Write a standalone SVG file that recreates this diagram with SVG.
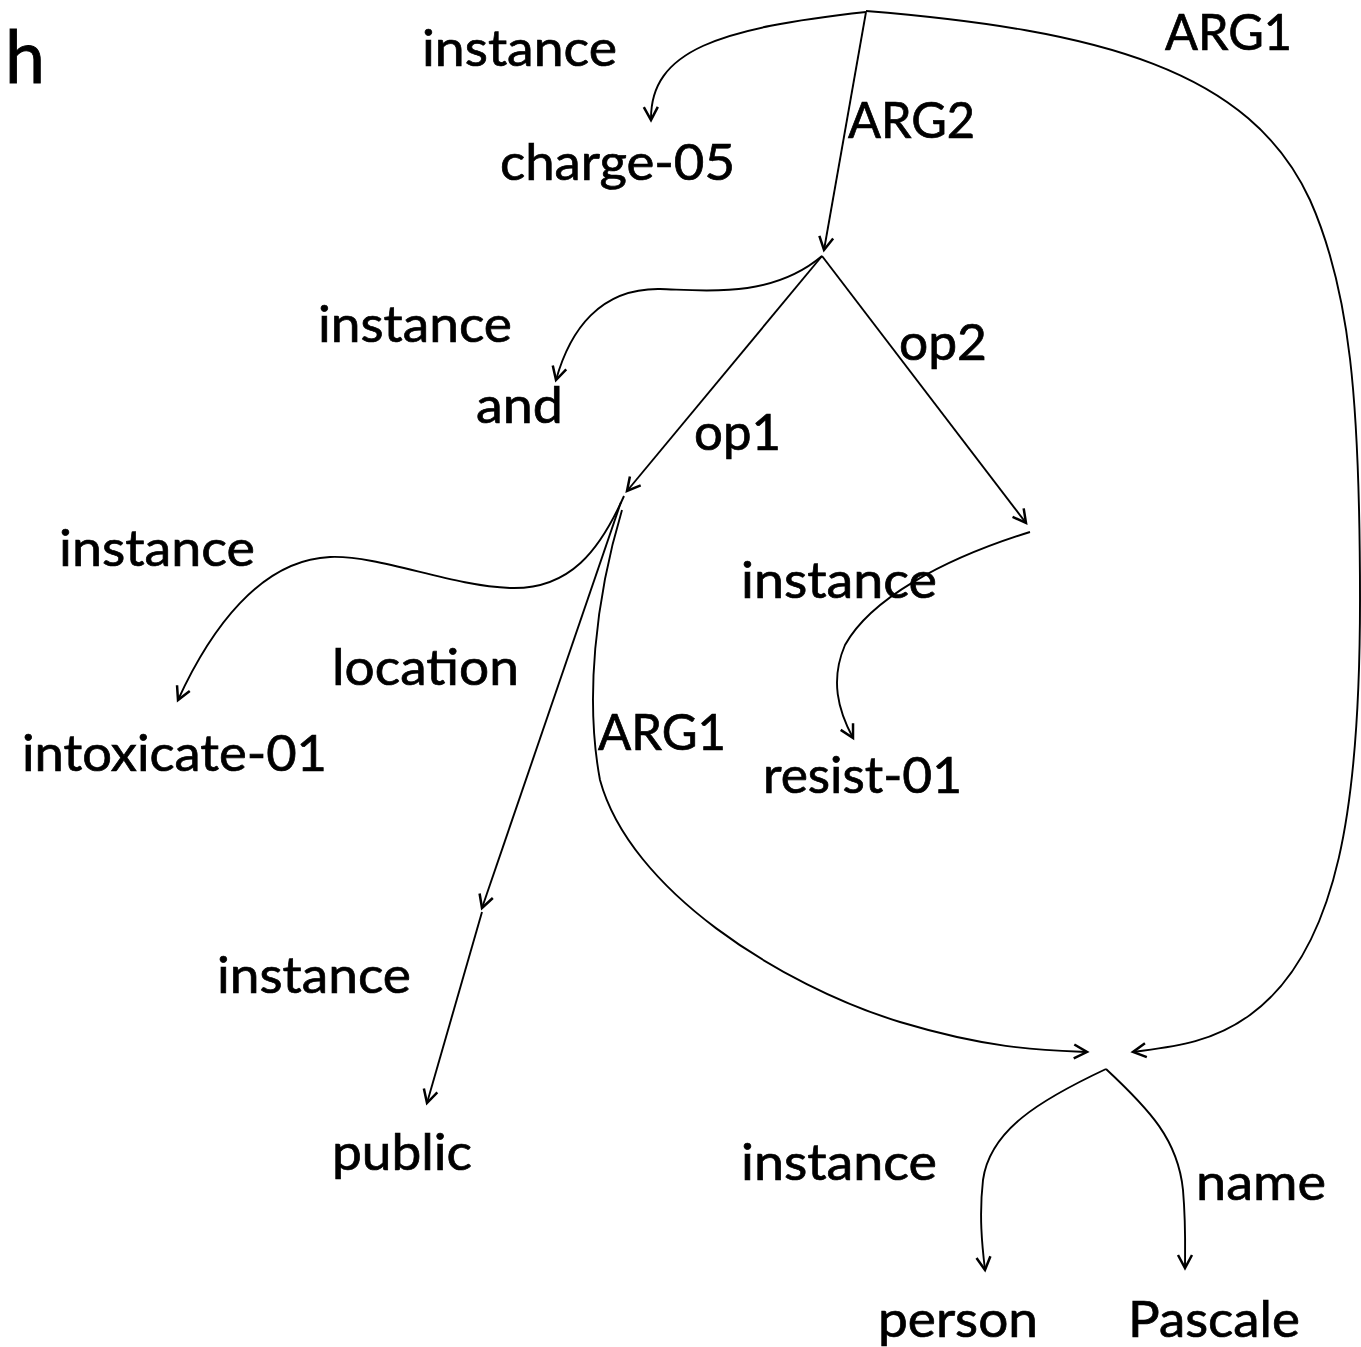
<svg xmlns="http://www.w3.org/2000/svg" width="1361" height="1347" viewBox="0 0 1361 1347">
<style>
  text { font-family: Lato, "Liberation Sans", sans-serif; font-size: 50px; fill: #000; stroke: #000; stroke-width: 0.7; }
  .big { font-size: 74px; stroke-width: 0.9; }
  .edge { fill: none; stroke: #000; stroke-width: 1.9; marker-end: url(#arr); }
</style>
<defs>
  <marker id="arr" viewBox="-16 -10 19 20" refX="0" refY="0" markerWidth="19" markerHeight="20" orient="auto" markerUnits="userSpaceOnUse">
    <path d="M-13,-7 L0,0 L-13,7" fill="none" stroke="#000" stroke-width="2.5" stroke-linejoin="miter"/>
  </marker>
</defs>
<rect width="1361" height="1347" fill="#fff"/>

<g id="panel-label"><text class="big" x="5" y="83" textLength="40" lengthAdjust="spacingAndGlyphs">h</text></g>

<g id="connectors">
  <path class="edge" d="M866,12 C720,28 650,50 651,120"/>
  <path class="edge" d="M866,12 L824,250"/>
  <path class="edge" d="M866,11 C1100,30 1250,70 1310,200 C1350,290 1360,400 1360,600 C1360,800 1340,950 1250,1015 C1210,1044 1170,1047 1133,1052"/>
  <path class="edge" d="M822,256 C770,300 700,290 660,289 C600,288 570,330 556,380"/>
  <path class="edge" d="M822,256 L627,491"/>
  <path class="edge" d="M822,256 L1026,523"/>
  <path class="edge" d="M624,496 C600,550 570,590 510,588 C450,586 380,555 330,557 C260,560 210,630 178,700"/>
  <path class="edge" d="M621,502 L482,908"/>
  <path class="edge" d="M622,510 C595,600 585,700 600,780 C630,890 780,985 900,1022 C990,1049 1040,1050 1087,1052"/>
  <path class="edge" d="M482,912 L427,1103"/>
  <path class="edge" d="M1030,532 C940,560 870,600 845,645 C830,680 838,710 853,738"/>
  <path class="edge" d="M1106,1069 C1040,1100 990,1130 983,1180 C979,1215 982,1245 985,1270"/>
  <path class="edge" d="M1106,1069 C1150,1110 1178,1140 1183,1190 C1186,1225 1185,1250 1185,1268"/>
</g>

<g id="edge-labels">
  <text x="422" y="66" textLength="195" lengthAdjust="spacingAndGlyphs">instance</text>
  <text x="1165" y="50" textLength="127" lengthAdjust="spacingAndGlyphs">ARG1</text>
  <text x="848" y="138" textLength="127" lengthAdjust="spacingAndGlyphs">ARG2</text>
  <text x="318" y="342" textLength="194" lengthAdjust="spacingAndGlyphs">instance</text>
  <text x="899" y="360" textLength="88" lengthAdjust="spacingAndGlyphs">op2</text>
  <text x="694" y="450" textLength="87" lengthAdjust="spacingAndGlyphs">op1</text>
  <text x="59" y="566" textLength="196" lengthAdjust="spacingAndGlyphs">instance</text>
  <text x="741" y="598" textLength="196" lengthAdjust="spacingAndGlyphs">instance</text>
  <text x="332" y="685" textLength="187" lengthAdjust="spacingAndGlyphs">location</text>
  <text x="598" y="750" textLength="128" lengthAdjust="spacingAndGlyphs">ARG1</text>
  <text x="217" y="993" textLength="194" lengthAdjust="spacingAndGlyphs">instance</text>
  <text x="741" y="1180" textLength="196" lengthAdjust="spacingAndGlyphs">instance</text>
  <text x="1196" y="1200" textLength="130" lengthAdjust="spacingAndGlyphs">name</text>
</g>

<g id="node-charge-05"><text x="500" y="180" textLength="235" lengthAdjust="spacingAndGlyphs">charge-05</text></g>
<g id="node-and"><text x="476" y="423" textLength="87" lengthAdjust="spacingAndGlyphs">and</text></g>
<g id="node-intoxicate-01"><text x="22" y="771" textLength="305" lengthAdjust="spacingAndGlyphs">intoxicate-01</text></g>
<g id="node-resist-01"><text x="763" y="793" textLength="199" lengthAdjust="spacingAndGlyphs">resist-01</text></g>
<g id="node-public"><text x="332" y="1170" textLength="140" lengthAdjust="spacingAndGlyphs">public</text></g>
<g id="node-person"><text x="878" y="1337" textLength="160" lengthAdjust="spacingAndGlyphs">person</text></g>
<g id="node-pascale"><text x="1128" y="1337" textLength="172" lengthAdjust="spacingAndGlyphs">Pascale</text></g>
</svg>
